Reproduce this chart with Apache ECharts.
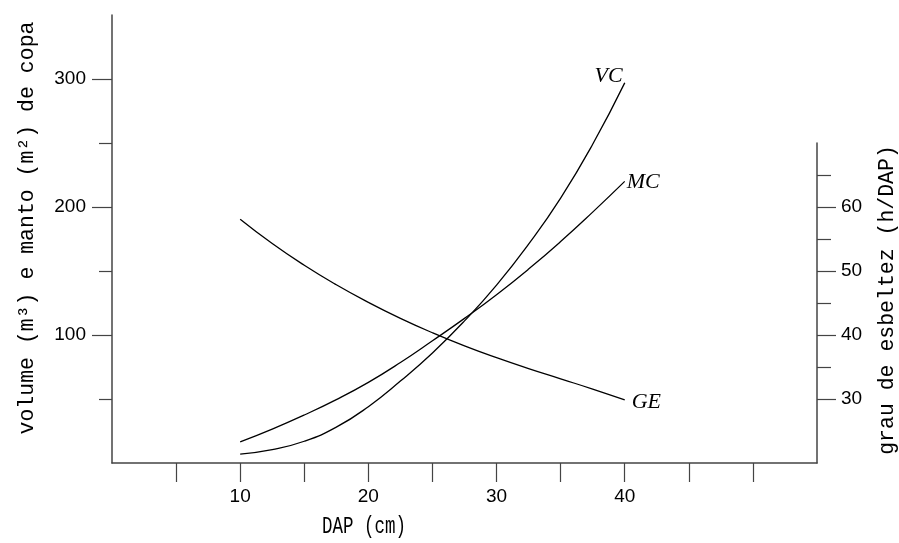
<!DOCTYPE html>
<html>
<head>
<meta charset="utf-8">
<script src="https://cdn.jsdelivr.net/npm/echarts@6/dist/echarts.min.js"></script>
<style>
html,body{margin:0;padding:0;background:#fff;}
#chart{width:899px;height:543px;}
</style>
</head>
<body>
<div id="chart"></div>
<script>
// DAP (cm)
const dap = [10, 12.5, 15, 17.5, 20, 22.5, 25, 27.5, 30, 32.5, 35, 37.5, 40];
// VC: volume de copa (m³) – left axis
const vc = [7, 10.5, 17, 28, 44, 64, 86, 111, 139, 171, 207, 249, 297];
// MC: manto de copa (m²) – left axis
const mc = [16.5, 26.5, 37.5, 49.5, 63, 78.5, 95.5, 113, 131.5, 151.5, 173, 196, 220];
// GE: grau de esbeltez (h/DAP) – right axis
const ge = [58.1, 54.3, 50.9, 47.85, 45.1, 42.6, 40.35, 38.3, 36.45, 34.75, 33.15, 31.55, 29.85];

const xTicks = [5, 10, 15, 20, 25, 30, 35, 40, 45, 50];
const xLabels = [10, 20, 30, 40];
const leftMajor = [100, 200, 300];
const leftMinor = [50, 150, 250];
const rightMajor = [30, 40, 50, 60];
const rightMinor = [35, 45, 55, 65];

const axisColor = '#444';
const numFont = '"Liberation Sans", Arial, sans-serif';
const labelFont = '"Liberation Serif", "Times New Roman", serif';
const monoFont = '"Liberation Mono", "DejaVu Sans Mono", monospace';

const pairs = (ys) => dap.map((x, i) => [x, ys[i]]);

const chart = echarts.init(document.getElementById('chart'), null, {renderer: 'canvas'});

const lineStyle = {color: '#000', width: 1.3};
const endLbl = (extra) => Object.assign({
  show: true,
  formatter: '{a}',
  fontFamily: labelFont,
  fontStyle: 'italic',
  fontSize: 22,
  color: '#000',
  distance: 0
}, extra);

chart.setOption({
  animation: false,
  backgroundColor: '#fff',
  grid: [
    {left: 112, right: 82, top: 15, bottom: 80},
    {left: 112, right: 82, top: 143, bottom: 80}
  ],
  xAxis: [
    {
      type: 'value', gridIndex: 0, min: 0, max: 55, interval: 5,
      axisLine: {show: true, onZero: false, lineStyle: {color: axisColor, width: 1.5}},
      axisTick: {show: true, length: 19, customValues: xTicks, lineStyle: {color: axisColor, width: 1.2}},
      axisLabel: {customValues: xLabels, margin: 24, fontFamily: numFont, fontSize: 19, color: '#000'},
      splitLine: {show: false}
    },
    {
      type: 'value', gridIndex: 1, min: 0, max: 55, show: false,
      axisLine: {onZero: false}
    }
  ],
  yAxis: [
    {
      type: 'value', gridIndex: 0, position: 'left', min: 0, max: 350,
      axisLine: {show: true, onZero: false, lineStyle: {color: axisColor, width: 1.5}},
      axisTick: {show: true, length: 13, customValues: leftMinor, lineStyle: {color: axisColor, width: 1.2}},
      axisLabel: {show: false},
      splitLine: {show: false}
    },
    {
      type: 'value', gridIndex: 0, position: 'left', min: 0, max: 350,
      axisLine: {show: false, onZero: false},
      axisTick: {show: true, length: 20, customValues: leftMajor, lineStyle: {color: axisColor, width: 1.2}},
      axisLabel: {customValues: leftMajor, margin: 26, fontFamily: numFont, fontSize: 19, color: '#000'},
      splitLine: {show: false}
    },
    {
      type: 'value', gridIndex: 1, position: 'right', min: 20, max: 70,
      axisLine: {show: true, onZero: false, lineStyle: {color: axisColor, width: 1.5}},
      axisTick: {show: true, length: 14, customValues: rightMinor, lineStyle: {color: axisColor, width: 1.2}},
      axisLabel: {show: false},
      splitLine: {show: false}
    },
    {
      type: 'value', gridIndex: 1, position: 'right', min: 20, max: 70,
      axisLine: {show: false, onZero: false},
      axisTick: {show: true, length: 19, customValues: rightMajor, lineStyle: {color: axisColor, width: 1.2}},
      axisLabel: {customValues: rightMajor, margin: 24, fontFamily: numFont, fontSize: 19, color: '#000'},
      splitLine: {show: false}
    }
  ],
  series: [
    {
      name: 'VC', type: 'line', xAxisIndex: 0, yAxisIndex: 0, data: pairs(vc),
      smooth: true, showSymbol: false, lineStyle: lineStyle,
      endLabel: endLbl({align: 'right', verticalAlign: 'bottom', offset: [-2, 4]})
    },
    {
      name: 'MC', type: 'line', xAxisIndex: 0, yAxisIndex: 0, data: pairs(mc),
      smooth: true, showSymbol: false, lineStyle: lineStyle,
      endLabel: endLbl({align: 'left', verticalAlign: 'middle', offset: [2, 1]})
    },
    {
      name: 'GE', type: 'line', xAxisIndex: 1, yAxisIndex: 2, data: pairs(ge),
      smooth: true, showSymbol: false, lineStyle: lineStyle,
      endLabel: endLbl({align: 'left', verticalAlign: 'middle', offset: [7, 2]})
    }
  ],
  graphic: [
    {
      type: 'text', x: 27, y: 228, rotation: Math.PI / 2,
      style: {text: 'volume (m³) e manto (m²) de copa', font: '21.5px ' + monoFont, fill: '#000', align: 'center', verticalAlign: 'middle'}
    },
    {
      type: 'text', x: 887, y: 300, rotation: Math.PI / 2,
      style: {text: 'grau de esbeltez (h/DAP)', font: '21.5px ' + monoFont, fill: '#000', align: 'center', verticalAlign: 'middle'}
    },
    {
      type: 'text', x: 364, y: 527, scaleY: 1.35,
      style: {text: 'DAP (cm)', font: '17.5px ' + monoFont, fill: '#000', align: 'center', verticalAlign: 'middle'}
    }
  ]
});
</script>
</body>
</html>
